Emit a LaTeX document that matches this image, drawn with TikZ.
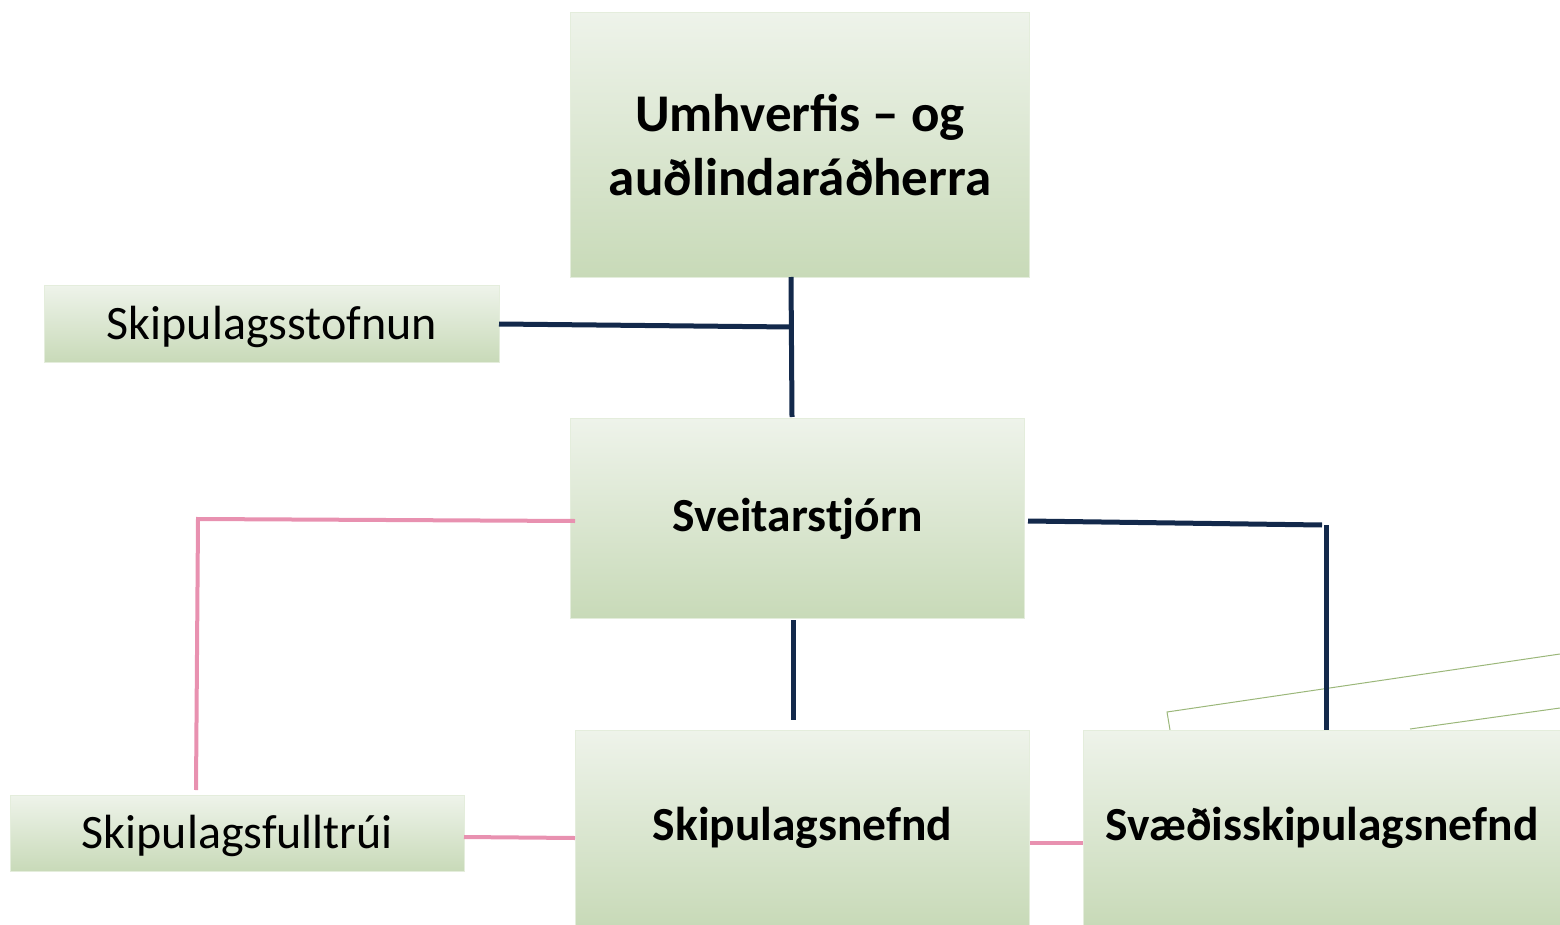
\documentclass[tikz,border=0pt]{standalone}
\usepackage{fontspec}
\setmainfont{Carlito}
\definecolor{navy}{HTML}{13294B}
\definecolor{pinkline}{HTML}{E891B0}
\definecolor{boxtop}{HTML}{EEF3EA}
\definecolor{boxbot}{HTML}{C8DAB8}
\definecolor{boxedge}{HTML}{E4EDDC}
\definecolor{thingreen}{HTML}{9BB77A}
\begin{document}
\begin{tikzpicture}[x=1pt,y=-1pt,
  box/.style={rectangle, anchor=north west, top color=boxtop, bottom color=boxbot, draw=boxedge, line width=1pt, inner sep=0pt, align=center},
  toptext/.style={font=\fontsize{53}{64}\selectfont\bfseries},
  bigtext/.style={font=\fontsize{47.5}{60}\selectfont\bfseries},
  smalltext/.style={font=\fontsize{48}{58}\selectfont, text height=36pt, text depth=6pt},
  navyline/.style={draw=navy, line width=5pt},
  pinkline/.style={draw=pinkline, line width=4pt},
  greenthin/.style={draw=thingreen, line width=1pt}]
\useasboundingbox (0,0) rectangle (1560,925);
% thin green lines behind
\coordinate (g1) at (1167,712);
\coordinate (g2) at (1560,654);
\coordinate (g3) at (1170,730);
\coordinate (g4) at (1410,729);
\coordinate (g5) at (1560,708);
\draw[greenthin] (g3) -- (g1) -- (g2);
\draw[greenthin] (g4) -- (g5);
% boxes
\node[box, minimum width=459pt, minimum height=265pt, toptext] (top) at (570,12) {Umhverfis – og\\auðlindaráðherra};
\node[box, minimum width=455pt, minimum height=77pt, smalltext] (stofnun) at (44,285) {Skipulagsstofnun};
\node[box, minimum width=454pt, minimum height=200pt, bigtext] (sveit) at (570,418) {Sveitarstjórn};
\node[box, minimum width=454pt, minimum height=76pt, smalltext] (fulltrui) at (10,795) {Skipulagsfulltrúi};
\node[box, minimum width=454pt, minimum height=195pt, bigtext] (nefnd) at (575,730) {Skipulagsnefnd};
\node[box, minimum width=477pt, minimum height=195pt, bigtext] (svaedis) at (1083,730) {Svæðisskipulagsnefnd};
% junction coordinates
\coordinate (t1) at (791,277);
\coordinate (j1) at (791,327);
\coordinate (t2) at (792,417);
\coordinate (s1) at (499,324);
\coordinate (b1) at (793,620);
\coordinate (b2) at (793,720);
\coordinate (r1) at (1028,521);
\coordinate (r2) at (1322,525);
\coordinate (r3) at (1326,525);
\coordinate (r4) at (1326,730);
\coordinate (p1) at (575,521);
\coordinate (p2) at (198,519);
\coordinate (p3) at (196,790);
\coordinate (f1) at (464,837);
\coordinate (f2) at (575,838);
\coordinate (n1) at (1030,843);
\coordinate (n2) at (1083,843);
% navy connectors
\draw[navyline] (t1) -- (t2);
\draw[navyline] (s1) -- (j1);
\draw[navyline] (b1) -- (b2);
\draw[navyline] (r1) -- (r2);
\draw[navyline] (r3) -- (r4);
% pink connectors
\draw[pinkline] (p1) -- (p2) -- (p3);
\draw[pinkline] (f1) -- (f2);
\draw[pinkline] (n1) -- (n2);
\end{tikzpicture}
\end{document}
